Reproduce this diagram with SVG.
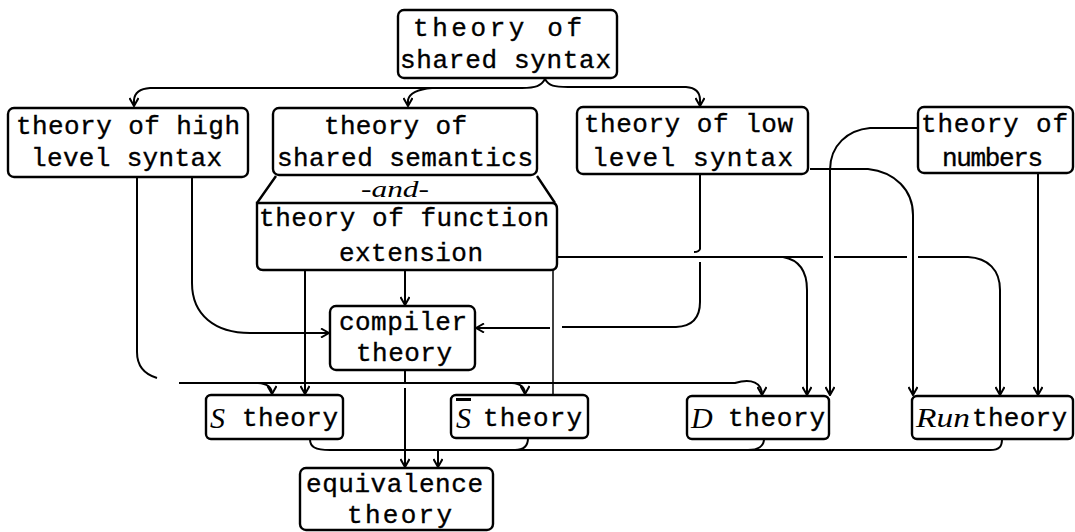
<svg xmlns="http://www.w3.org/2000/svg" width="1075" height="532" viewBox="0 0 1075 532">
<defs>
<style>
.box{fill:#fff;stroke:#000;stroke-width:2.4}
.t{font-family:"Liberation Mono","DejaVu Sans Mono",monospace;font-size:26px;fill:#000;stroke:#000;stroke-width:0.35}
.s{font-family:"Liberation Serif","DejaVu Serif",serif;font-style:italic;fill:#000}
.c{fill:none;stroke:#000;stroke-width:2}
.thin{fill:none;stroke:#000;stroke-width:1.5}
</style>
<marker id="a" viewBox="0 0 10 10" refX="9" refY="5" markerWidth="10" markerHeight="10" markerUnits="userSpaceOnUse" orient="auto">
<path d="M1,0.5 L9,5 L1,9.5" fill="none" stroke="#000" stroke-width="2"/>
</marker>
</defs>
<rect width="1075" height="532" fill="#fff"/>
<g id="connectors">
<path class="c" d="M545,79 C541,86 536,88 522,88 H150 Q135,89 134,100 V106" marker-end="url(#a)"/>
<path class="c" d="M432,88 Q410,90 408,100 V106" marker-end="url(#a)"/>
<path class="c" d="M545,79 C549,86 554,87 568,87 H686 Q700,88 700,100 V106" marker-end="url(#a)"/>
<path class="c" d="M192,177 V283 C192,315 215,333 250,333 H329" marker-end="url(#a)"/>
<path class="c" d="M137,177 V352 Q137,372 157,378"/>
<path class="c" d="M179,383 H735 C752,378 762,383 762,395" marker-end="url(#a)"/>
<path class="c" d="M258,383 Q272,384 272,394" marker-end="url(#a)"/>
<path class="c" d="M512,383 Q525,384 525,394" marker-end="url(#a)"/>
<path class="c" d="M305,270 V394" marker-end="url(#a)"/>
<path class="c" d="M405,270 V305" marker-end="url(#a)"/>
<path class="thin" d="M553,270 V395"/>
<path class="c" d="M700,174 V249 Q699,252 694,252"/>
<path class="c" d="M700,262 V302 Q700,326 676,327 H562"/>
<path class="c" d="M550,328 H476" marker-end="url(#a)"/>
<path class="c" d="M557,257 H823 M834,257 H907 M918,257 H968 C988,258 1000,270 1000,290 V395" marker-end="url(#a)"/>
<path class="c" d="M783,257 C800,260 807,272 807,290 V395" marker-end="url(#a)"/>
<path class="c" d="M918,128 H870 C848,130 830,145 830,170 V395" marker-end="url(#a)"/>
<path class="c" d="M810,169 H868 C895,172 913,190 913,215 V395" marker-end="url(#a)"/>
<path class="c" d="M1038,173 V395" marker-end="url(#a)"/>
<path class="c" d="M405,370 V383 M405,388 V467" marker-end="url(#a)"/>
<path class="c" d="M310,439 C310,447 315,450 330,450 H990 C1000,450 1002,446 1002,439"/>
<path class="c" d="M528,438 C528,446 524,450 515,450"/>
<path class="c" d="M764,439 C764,446 758,450 748,450"/>
<path class="c" d="M438,450 V467" marker-end="url(#a)"/>
</g>
<g id="shared-syntax">
<rect class="box" x="398" y="10" width="219" height="68" rx="6"/>
<text class="t" x="413" y="36" textLength="169" lengthAdjust="spacing">theory of</text>
<text class="t" x="400" y="68" textLength="211" lengthAdjust="spacing">shared syntax</text>
</g>
<g id="high-level-syntax">
<rect class="box" x="8" y="108" width="240" height="69" rx="6"/>
<text class="t" x="16" y="134" textLength="224" lengthAdjust="spacing">theory of high</text>
<text class="t" x="31" y="166" textLength="191" lengthAdjust="spacing">level syntax</text>
</g>
<g id="shared-semantics">
<rect class="box" x="273" y="108" width="264" height="67" rx="6"/>
<text class="t" x="324" y="134" textLength="143" lengthAdjust="spacing">theory of</text>
<text class="t" x="277" y="166" textLength="256" lengthAdjust="spacing">shared semantics</text>
<path class="box" d="M276,176 L257,203 M537,176 L555,203"/>
<text class="s" x="361" y="197" font-size="23" textLength="68" lengthAdjust="spacingAndGlyphs">-and-</text>
</g>
<g id="function-extension">
<path class="box" d="M257,203 H552 Q557,203 557,209 V264 Q557,270 551,270 H263 Q257,270 257,264 Z"/>
<text class="t" x="259" y="226" textLength="290" lengthAdjust="spacing">theory of function</text>
<text class="t" x="339" y="261" textLength="144" lengthAdjust="spacing">extension</text>
</g>
<g id="low-level-syntax">
<rect class="box" x="577" y="107" width="231" height="67" rx="6"/>
<text class="t" x="584" y="132" textLength="209" lengthAdjust="spacing">theory of low</text>
<text class="t" x="592" y="166" textLength="201" lengthAdjust="spacing">level syntax</text>
</g>
<g id="numbers">
<rect class="box" x="918" y="107" width="155" height="66" rx="6"/>
<text class="t" x="921" y="132" textLength="147" lengthAdjust="spacing">theory of</text>
<text class="t" x="942" y="166" textLength="101" lengthAdjust="spacing">numbers</text>
</g>
<g id="compiler">
<rect class="box" x="330" y="306" width="145" height="64" rx="6"/>
<text class="t" x="339" y="330" textLength="128" lengthAdjust="spacing">compiler</text>
<text class="t" x="356" y="361" textLength="96" lengthAdjust="spacing">theory</text>
</g>
<g id="s-theory">
<rect class="box" x="206" y="395" width="137" height="44" rx="5"/>
<text class="s" x="210" y="428" font-size="30">S</text>
<text class="t" x="242" y="426" textLength="96" lengthAdjust="spacing">theory</text>
</g>
<g id="sbar-theory">
<rect class="box" x="451" y="395" width="137" height="43" rx="5"/>
<text class="s" x="456" y="428" font-size="30" style="text-decoration:overline">S</text>
<text class="t" x="483" y="426" textLength="99" lengthAdjust="spacing">theory</text>
</g>
<g id="d-theory">
<rect class="box" x="687" y="396" width="142" height="43" rx="5"/>
<text class="s" x="691" y="428" font-size="30">D</text>
<text class="t" x="728" y="426" textLength="97" lengthAdjust="spacing">theory</text>
</g>
<g id="run-theory">
<rect class="box" x="912" y="396" width="161" height="43" rx="5"/>
<text class="s" x="916" y="427" font-size="27" textLength="54" lengthAdjust="spacingAndGlyphs">Run</text>
<text class="t" x="972" y="426" textLength="95" lengthAdjust="spacing">theory</text>
</g>
<g id="equivalence">
<rect class="box" x="300" y="468" width="193" height="62" rx="6"/>
<text class="t" x="306" y="492" textLength="177" lengthAdjust="spacing">equivalence</text>
<text class="t" x="347" y="523" textLength="105" lengthAdjust="spacing">theory</text>
</g>
</svg>
